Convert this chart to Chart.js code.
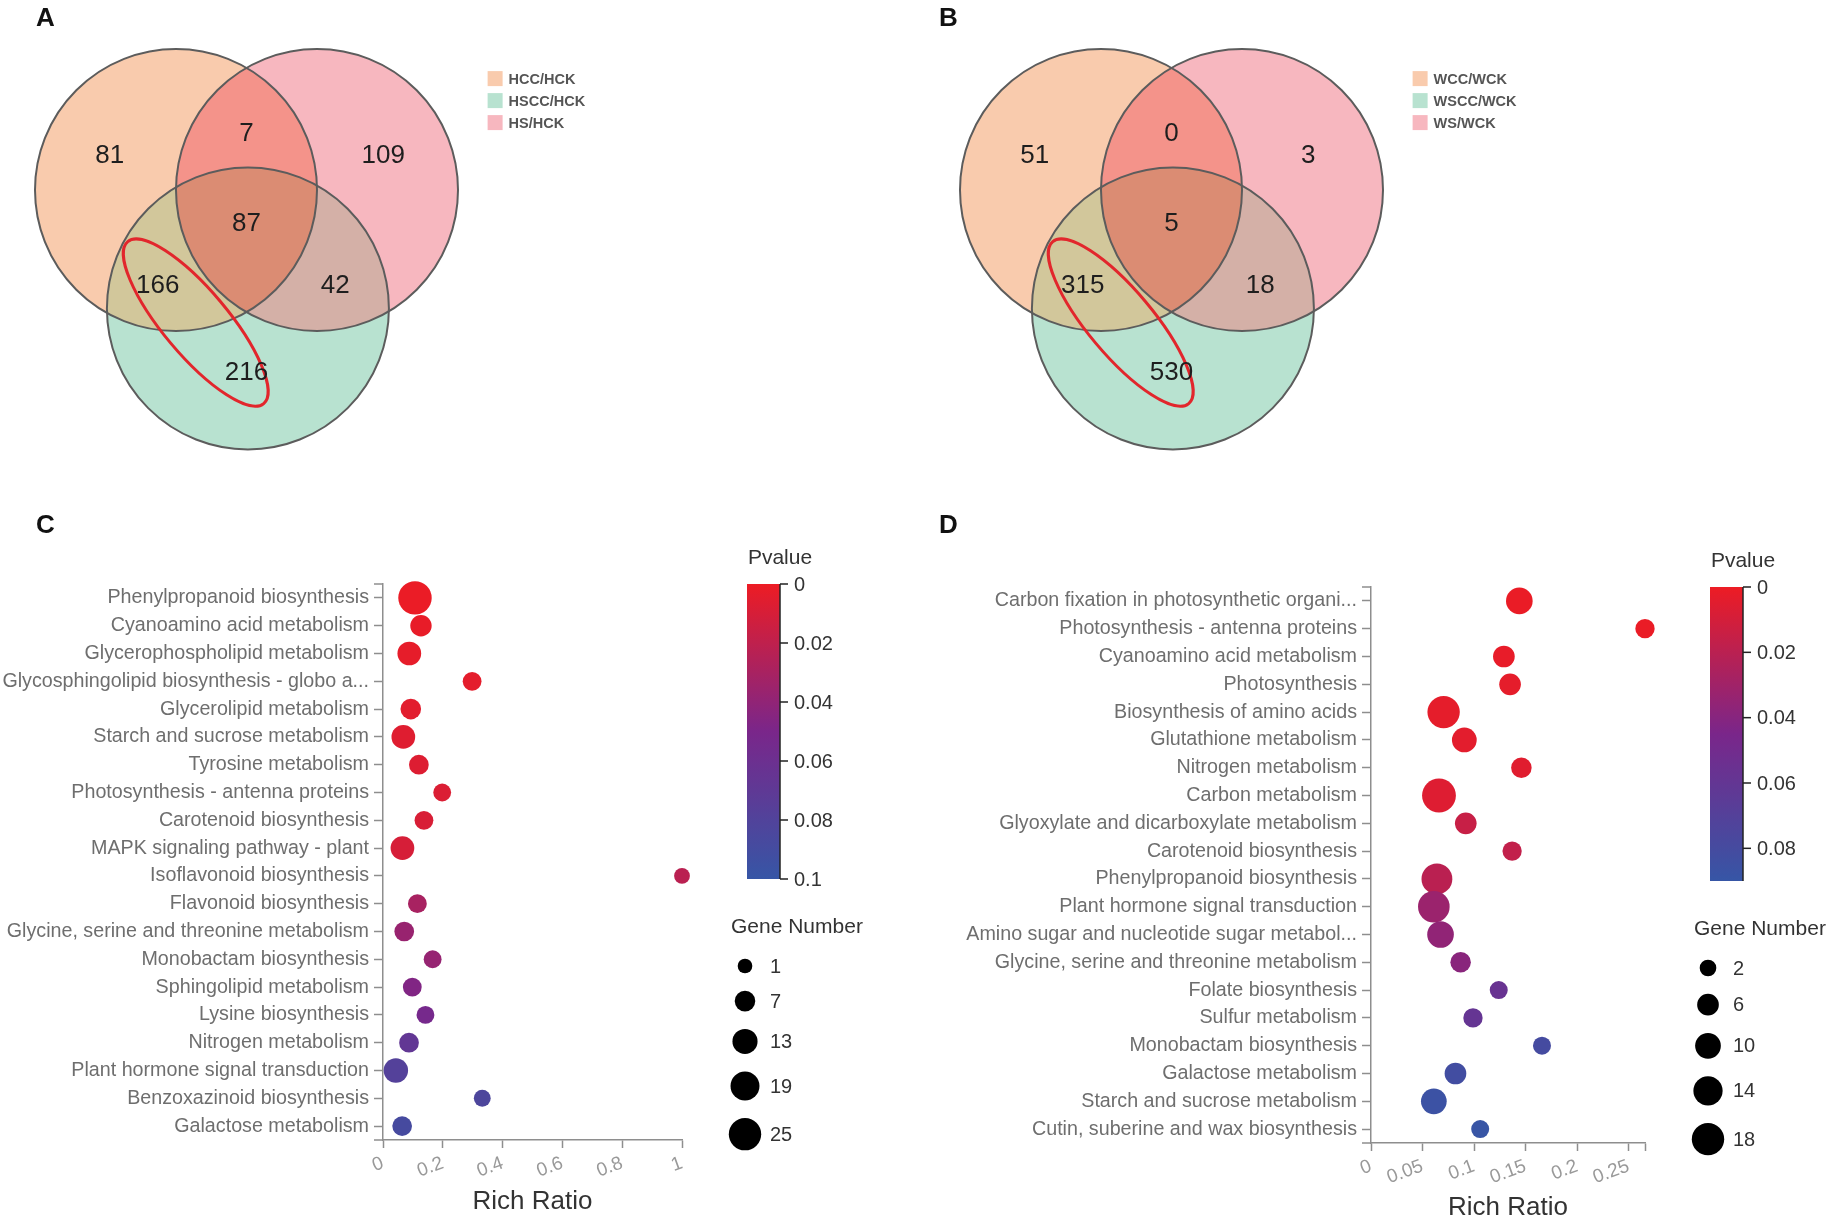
<!DOCTYPE html>
<html>
<head>
<meta charset="utf-8">
<script src="https://cdn.jsdelivr.net/npm/chart.js@4.4.0/dist/chart.umd.min.js"></script>
<style>
body{margin:0;background:#fff;font-family:'Liberation Sans',Arial,sans-serif}
#wrap{position:relative;width:1842px;height:1220px;overflow:hidden}
canvas{position:absolute}
.tag{position:absolute;font:bold 26px 'Liberation Sans',Arial,sans-serif;color:#111;line-height:30px;z-index:2}
</style>
</head>
<body>
<div id="wrap">
  <canvas id="vennA" width="900" height="480" style="left:0;top:0"></canvas>
  <canvas id="vennB" width="917" height="480" style="left:925px;top:0"></canvas>
  <canvas id="dotC" width="900" height="680" style="left:0;top:540px"></canvas>
  <canvas id="dotD" width="917" height="684" style="left:925px;top:540px"></canvas>
  <div class="tag" style="left:36px;top:2px">A</div>
  <div class="tag" style="left:939px;top:2px">B</div>
  <div class="tag" style="left:36px;top:509px">C</div>
  <div class="tag" style="left:939px;top:509px">D</div>
</div>
<script>
// ---- data ----
const vennSetsA = ['HCC/HCK', 'HSCC/HCK', 'HS/HCK'];
const vennSetsB = ['WCC/WCK', 'WSCC/WCK', 'WS/WCK'];
// regions: CC only, CC+S, S only, all three, CC+SCC, S+SCC, SCC only
const vennCountsA = [81, 7, 109, 87, 166, 42, 216];
const vennCountsB = [51, 0, 3, 5, 315, 18, 530];

const pathwaysC = ['Phenylpropanoid biosynthesis', 'Cyanoamino acid metabolism', 'Glycerophospholipid metabolism',
  'Glycosphingolipid biosynthesis - globo a...', 'Glycerolipid metabolism', 'Starch and sucrose metabolism',
  'Tyrosine metabolism', 'Photosynthesis - antenna proteins', 'Carotenoid biosynthesis',
  'MAPK signaling pathway - plant', 'Isoflavonoid biosynthesis', 'Flavonoid biosynthesis',
  'Glycine, serine and threonine metabolism', 'Monobactam biosynthesis', 'Sphingolipid metabolism',
  'Lysine biosynthesis', 'Nitrogen metabolism', 'Plant hormone signal transduction',
  'Benzoxazinoid biosynthesis', 'Galactose metabolism'];
const ratioC = [0.107, 0.127, 0.088, 0.298, 0.093, 0.068, 0.12, 0.198, 0.137, 0.065,
  1.0, 0.115, 0.071, 0.166, 0.098, 0.142, 0.087, 0.043, 0.332, 0.064];
const genesC = [27, 8, 11, 5, 7, 11, 6, 4, 5, 11, 2, 5, 6, 4, 5, 4, 6, 12, 3, 6];
const pvalC = [0.001, 0.002, 0.003, 0.004, 0.005, 0.006, 0.007, 0.008, 0.009, 0.01,
  0.022, 0.03, 0.037, 0.038, 0.047, 0.053, 0.068, 0.078, 0.083, 0.088];
const xTicksC = [0, 0.2, 0.4, 0.6, 0.8, 1];
const xTickLabelsC = ['0', '0.2', '0.4', '0.6', '0.8', '1'];
const pTicksC = [0, 0.02, 0.04, 0.06, 0.08, 0.1];
const pMaxC = 0.1;
const geneLegendC = [1, 7, 13, 19, 25];

const pathwaysD = ['Carbon fixation in photosynthetic organi...', 'Photosynthesis - antenna proteins',
  'Cyanoamino acid metabolism', 'Photosynthesis', 'Biosynthesis of amino acids', 'Glutathione metabolism',
  'Nitrogen metabolism', 'Carbon metabolism', 'Glyoxylate and dicarboxylate metabolism',
  'Carotenoid biosynthesis', 'Phenylpropanoid biosynthesis', 'Plant hormone signal transduction',
  'Amino sugar and nucleotide sugar metabol...', 'Glycine, serine and threonine metabolism',
  'Folate biosynthesis', 'Sulfur metabolism', 'Monobactam biosynthesis', 'Galactose metabolism',
  'Starch and sucrose metabolism', 'Cutin, suberine and wax biosynthesis'];
const ratioD = [0.144, 0.266, 0.129, 0.135, 0.0705, 0.0906, 0.146, 0.066, 0.092, 0.137,
  0.064, 0.061, 0.0675, 0.087, 0.124, 0.099, 0.166, 0.082, 0.061, 0.106];
const genesD = [11, 4, 6, 6, 18, 9, 5, 20, 6, 4, 16, 17, 11, 5, 3, 4, 3, 6, 10, 3];
const pvalD = [0.001, 0.001, 0.002, 0.003, 0.003, 0.004, 0.005, 0.006, 0.015, 0.017,
  0.02, 0.032, 0.036, 0.039, 0.057, 0.059, 0.08, 0.082, 0.086, 0.089];
const xTicksD = [0, 0.05, 0.1, 0.15, 0.2, 0.25];
const xTickLabelsD = ['0', '0.05', '0.1', '0.15', '0.2', '0.25'];
const pTicksD = [0, 0.02, 0.04, 0.06, 0.08];
const pMaxD = 0.09;
const geneLegendD = [2, 6, 10, 14, 18];

// ---- shared styling ----
const FONT = "'Liberation Sans', Arial, sans-serif";
Chart.defaults.font.family = FONT;

const pStops = [[0, [237, 28, 36]], [0.5, [122, 38, 138]], [1, [54, 86, 166]]];
function pColor(t) {
  t = Math.min(1, Math.max(0, t));
  for (let k = 1; k < pStops.length; k++) {
    if (t <= pStops[k][0]) {
      const [t0, c0] = pStops[k - 1], [t1, c1] = pStops[k];
      const f = (t - t0) / (t1 - t0);
      return 'rgb(' + c0.map((v, j) => Math.round(v + (c1[j] - v) * f)).join(',') + ')';
    }
  }
}
// circle area grows linearly with gene count
function geneRadius(g, gMax) { return Math.sqrt(45 + 217 * g / gMax); }

// ---- venn ----
const vennCenters = [[0, 0], [0.51, 0.84], [1, 0]];   // CC, SCC, S in radius units
const vennFill = ['#F9CBAD', '#B8E2D0', '#F7B7BF'];
const vennPairs = [[0, 2, '#F4938A'], [0, 1, '#D2C79B'], [1, 2, '#D4B0A7']];
const vennTriple = '#DB8C73';
const vennRegionPos = [[-0.47, -0.24], [0.5, -0.4], [1.47, -0.24], [0.5, 0.24],
  [-0.13, 0.68], [1.13, 0.68], [0.5, 1.3]];

const vennPlugin = {
  id: 'venn',
  beforeDatasetsDraw(chart) {
    const {ctx, scales: {x, y}} = chart;
    const rad = x.getPixelForValue(1) - x.getPixelForValue(0);
    const circ = i => {
      ctx.beginPath();
      ctx.arc(x.getPixelForValue(vennCenters[i][0]), y.getPixelForValue(vennCenters[i][1]), rad, 0, Math.PI * 2);
    };
    ctx.save();
    [0, 2, 1].forEach(i => { circ(i); ctx.fillStyle = vennFill[i]; ctx.fill(); });
    vennPairs.forEach(([i, j, col]) => {
      ctx.save(); circ(i); ctx.clip(); circ(j); ctx.fillStyle = col; ctx.fill(); ctx.restore();
    });
    ctx.save(); circ(0); ctx.clip(); circ(1); ctx.clip(); circ(2); ctx.fillStyle = vennTriple; ctx.fill(); ctx.restore();
    ctx.strokeStyle = '#5c5c5c'; ctx.lineWidth = 2;
    [0, 1, 2].forEach(i => { circ(i); ctx.stroke(); });
    // highlighted pair of regions
    ctx.beginPath();
    ctx.ellipse(x.getPixelForValue(0.14), y.getPixelForValue(0.94), 0.75 * rad, 0.23 * rad, 50 * Math.PI / 180, 0, Math.PI * 2);
    ctx.strokeStyle = '#E2262C'; ctx.lineWidth = 3; ctx.stroke();
    ctx.restore();
  },
  afterDatasetsDraw(chart, args, opts) {
    const {ctx, scales: {x, y}} = chart;
    const meta = chart.getDatasetMeta(0);
    ctx.save();
    ctx.font = '26px ' + FONT; ctx.fillStyle = '#1e1e1e';
    ctx.textAlign = 'center'; ctx.textBaseline = 'middle';
    meta.data.forEach((pt, i) => ctx.fillText(String(opts.counts[i]), pt.x, pt.y));
    // legend
    ctx.font = 'bold 14.5px ' + FONT; ctx.textAlign = 'left';
    const lx = x.getPixelForValue(2.21);
    opts.sets.forEach((s, i) => {
      const ly = y.getPixelForValue(-0.79 + i * 0.156);
      ctx.fillStyle = vennFill[i];
      ctx.fillRect(lx, ly - 7.5, 15, 15);
      ctx.fillStyle = '#555';
      ctx.fillText(s, lx + 21, ly + 1);
    });
    ctx.restore();
  }
};

function vennChart(id, sets, counts, width) {
  const unit = 141, cx = 176, cy = 190;
  return new Chart(document.getElementById(id), {
    type: 'scatter',
    data: {datasets: [{data: vennRegionPos.map(p => ({x: p[0], y: p[1]})), pointRadius: 0}]},
    options: {
      responsive: false, animation: false, devicePixelRatio: 1, events: [],
      layout: {padding: 0},
      plugins: {legend: {display: false}, tooltip: {enabled: false}, venn: {sets, counts}},
      scales: {
        x: {type: 'linear', display: false, bounds: 'data', min: -cx / unit, max: (width - cx) / unit},
        y: {type: 'linear', display: false, bounds: 'data', reverse: true, min: -cy / unit, max: (480 - cy) / unit}
      }
    },
    plugins: [vennPlugin]
  });
}

// ---- dot plots ----
const AXIS = '#8e8e8e';
const outerTicks = {
  id: 'outerTicks',
  afterDraw(chart) {
    const {ctx, chartArea: a} = chart;
    ctx.save();
    ctx.strokeStyle = AXIS; ctx.lineWidth = 1.5;
    ctx.beginPath();
    ctx.moveTo(a.left - 9, a.top); ctx.lineTo(a.left, a.top);
    ctx.moveTo(a.left - 9, a.bottom); ctx.lineTo(a.left, a.bottom);
    ctx.stroke();
    ctx.restore();
  }
};

const scaleLegend = {
  id: 'scaleLegend',
  afterDraw(chart, args, o) {
    const {ctx, chartArea: a} = chart;
    const bx = a.right + 65, bw = 33, by = a.top, bh = o.barH;
    ctx.save();
    const grad = ctx.createLinearGradient(0, by, 0, by + bh);
    for (let k = 0; k <= 10; k++) grad.addColorStop(k / 10, pColor(k / 10));
    ctx.fillStyle = grad;
    ctx.fillRect(bx, by, bw, bh);
    ctx.strokeStyle = '#222'; ctx.lineWidth = 1.5;
    ctx.beginPath(); ctx.moveTo(bx + bw, by); ctx.lineTo(bx + bw, by + bh); ctx.stroke();
    ctx.fillStyle = '#333'; ctx.textBaseline = 'middle';
    ctx.font = '21px ' + FONT; ctx.textAlign = 'center';
    ctx.fillText('Pvalue', bx + bw, by - 26);
    ctx.font = '20px ' + FONT; ctx.textAlign = 'left';
    o.pTicks.forEach(v => {
      const ty = by + v / o.pMax * bh;
      ctx.beginPath(); ctx.moveTo(bx + bw, ty); ctx.lineTo(bx + bw + 8, ty); ctx.stroke();
      ctx.fillText(String(v), bx + bw + 14, ty + 1);
    });
    // gene number size legend
    ctx.font = '21px ' + FONT;
    ctx.fillText('Gene Number', bx - 16, by + bh + 48);
    ctx.font = '20px ' + FONT;
    let gy = by + bh + 87;
    o.genes.forEach((g, i) => {
      const r = geneRadius(g, o.gMax);
      if (i > 0) gy += geneRadius(o.genes[i - 1], o.gMax) + r + 17.5;
      ctx.fillStyle = '#000';
      ctx.beginPath(); ctx.arc(bx - 2, gy, r, 0, Math.PI * 2); ctx.fill();
      ctx.fillStyle = '#333';
      ctx.fillText(String(g), bx + 23, gy + 1);
    });
    ctx.restore();
  }
};

function dotChart(id, c) {
  const xMax = Math.max(...c.ratio);
  const gMax = c.legendGenes[c.legendGenes.length - 1];
  return new Chart(document.getElementById(id), {
    type: 'bubble',
    data: {
      datasets: [{
        data: c.ratio.map((r, i) => ({x: r, y: i, r: geneRadius(c.genes[i], gMax), p: c.pval[i]})),
        backgroundColor: ctx => pColor(ctx.raw.p / c.pMax),
        borderWidth: 0,
        clip: false
      }]
    },
    options: {
      responsive: false, animation: false, devicePixelRatio: 1, events: [],
      layout: {padding: {top: c.padTop, right: c.padRight, bottom: 0, left: 0}},
      plugins: {
        legend: {display: false}, tooltip: {enabled: false},
        scaleLegend: {barH: c.barH, pTicks: c.pTicks, pMax: c.pMax, genes: c.legendGenes, gMax}
      },
      scales: {
        x: {
          type: 'linear', min: 0, max: xMax,
          afterBuildTicks: s => {
            const vals = c.xTicks.filter(v => v <= xMax + 1e-9);
            if (Math.abs(vals[vals.length - 1] - xMax) > 1e-9) vals.push(xMax);
            s.ticks = vals.map(v => ({value: v}));
          },
          afterFit: s => { s.height = c.xHeight; },
          ticks: {
            callback: (v, i) => (c.xLabels[i] !== undefined ? c.xLabels[i] : ''),
            minRotation: 20, maxRotation: 20, color: '#999', font: {size: 19}, padding: 4
          },
          grid: {drawOnChartArea: false, tickColor: AXIS, tickWidth: 1.5, tickLength: 8},
          border: {color: AXIS, width: 1.5},
          title: {display: true, text: 'Rich Ratio', color: '#333', font: {size: 26}, padding: {top: 0, bottom: c.titlePad}}
        },
        y: {
          type: 'category', labels: c.names, offset: true,
          afterFit: s => { s.width = c.yWidth; },
          ticks: {color: '#6e6e6e', font: {size: 19.7}, padding: 5, autoSkip: false},
          grid: {drawOnChartArea: false, offset: false, tickColor: AXIS, tickWidth: 1.5, tickLength: 9},
          border: {color: AXIS, width: 1.5}
        }
      }
    },
    plugins: [outerTicks, scaleLegend]
  });
}

vennChart('vennA', vennSetsA, vennCountsA, 900);
vennChart('vennB', vennSetsB, vennCountsB, 917);

dotChart('dotC', {
  names: pathwaysC, ratio: ratioC, genes: genesC, pval: pvalC,
  xTicks: xTicksC, xLabels: xTickLabelsC, pTicks: pTicksC, pMax: pMaxC, legendGenes: geneLegendC,
  padTop: 44, padRight: 218, yWidth: 383, xHeight: 80, titlePad: 3, barH: 295
});
dotChart('dotD', {
  names: pathwaysD, ratio: ratioD, genes: genesD, pval: pvalD,
  xTicks: xTicksD, xLabels: xTickLabelsD, pTicks: pTicksD, pMax: pMaxD, legendGenes: geneLegendD,
  padTop: 47, padRight: 197, yWidth: 446, xHeight: 81, titlePad: 1, barH: 294
});
</script>
</body>
</html>
